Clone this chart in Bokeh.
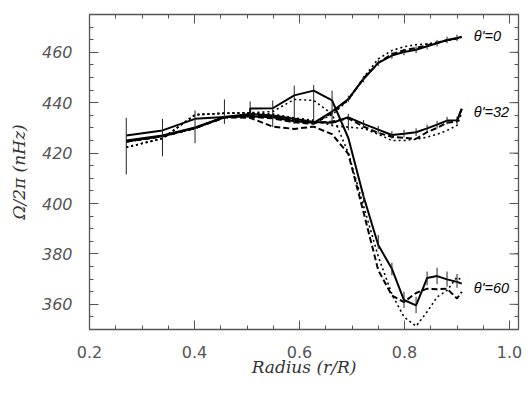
from bokeh.plotting import figure
from bokeh.models import Range1d, LinearAxis, FixedTicker, PrintfTickFormatter
from bokeh.embed import file_html
from bokeh.resources import INLINE
from bokeh.core.properties import value

# ---------------- data ----------------
r = [0.270, 0.339, 0.401, 0.457, 0.506, 0.549, 0.590, 0.627, 0.662, 0.693,
     0.722, 0.750, 0.776, 0.799, 0.822, 0.843, 0.862, 0.881, 0.900, 0.909]

eq_solid = [424.6, 426.7, 429.9, 434.2, 434.6, 434.2, 432.6, 432.0, 436.5, 441.5,
            449.4, 455.8, 458.7, 460.1, 461.0, 462.4, 463.6, 464.9, 465.7, 466.2]
eq_dash = [424.6, 426.7, 429.9, 434.2, 434.4, 433.8, 432.2, 431.6, 436.0, 441.3,
           449.6, 455.8, 459.3, 460.8, 461.7, 462.8, 463.8, 464.8, 465.5, 466.0]
eq_dot = [422.3, 425.8, 435.2, 435.8, 436.0, 435.0, 433.0, 432.0, 435.2, 441.0,
          450.0, 457.4, 460.7, 462.2, 463.0, 463.3, 464.0, 464.5, 465.5, 466.0]

m32_solid = [425.0, 427.0, 430.2, 434.3, 435.5, 434.9, 433.6, 432.3, 432.0, 434.2,
             431.6, 429.3, 427.2, 427.7, 428.3, 429.8, 431.3, 432.9, 433.0, 437.6]
m32_dash = [424.6, 426.7, 429.9, 434.2, 435.2, 434.5, 433.2, 432.0, 432.5, 433.8,
            430.5, 428.0, 426.5, 426.0, 425.7, 428.3, 430.0, 432.0, 432.5, 437.5]
m32_dot = [422.3, 425.8, 435.2, 435.8, 436.0, 435.5, 434.0, 433.0, 431.0, 430.3,
           429.8, 427.5, 425.0, 425.0, 425.5, 426.3, 427.5, 429.0, 431.0, 436.0]

r60 = [0.270, 0.339, 0.401, 0.457, 0.506, 0.506, 0.549, 0.590, 0.627, 0.662, 0.693,
       0.722, 0.750, 0.776, 0.799, 0.822, 0.843, 0.862, 0.881, 0.900, 0.909]
m60_solid = [427.0, 429.0, 433.6, 434.3, 434.8, 437.7, 437.8, 442.9, 444.8, 440.9, 426.0,
             402.8, 383.5, 374.1, 361.7, 359.6, 370.4, 371.2, 369.9, 368.9, 368.2]
m60_dash = [424.6, 426.7, 429.9, 434.2, 434.0, 430.5, 429.6, 430.5, 427.5, 419.7,
            396.5, 373.5, 363.5, 360.9, 364.5, 366.2, 366.0, 366.2, 362.3, 364.9]
m60_dot = [422.3, 425.8, 435.2, 435.8, 436.0, 436.5, 441.3, 440.9, 435.5, 420.0,
           399.0, 379.0, 364.0, 355.0, 351.3, 357.0, 362.9, 365.5, 370.8, 369.5]

# error bars (lower / upper limits)
bar_r60 = [0.270, 0.339, 0.401, 0.457, 0.506, 0.549, 0.590, 0.627, 0.662,
           0.722, 0.750, 0.776, 0.799, 0.822, 0.843, 0.862, 0.881, 0.900]
bar_lo60 = [411.5, 418.7, 423.9, 431.6, 434.9, 430.3, 431.6, 431.6, 431.0,
            400.5, 382.0, 371.5, 358.5, 356.5, 367.5, 368.0, 367.0, 366.5]
bar_hi60 = [434.0, 433.6, 436.9, 441.3, 440.5, 440.9, 446.8, 447.0, 444.8,
            404.5, 387.5, 376.5, 365.0, 363.0, 373.0, 374.5, 373.0, 372.0]

bar_r = [0.693, 0.722, 0.750, 0.776, 0.799, 0.822, 0.843, 0.862, 0.881, 0.900]
bar_lo0 = [440.2, 448.1, 454.5, 457.4, 458.8, 459.7, 461.1, 462.3, 463.6, 464.4]
bar_hi0 = [442.8, 450.7, 457.1, 460.0, 461.4, 462.3, 463.7, 464.9, 466.2, 467.0]
bar_lo32 = [429.0, 430.1, 427.8, 425.7, 426.2, 426.8, 428.3, 429.8, 431.4, 431.5]
bar_hi32 = [435.6, 433.1, 430.8, 428.7, 429.2, 429.8, 431.3, 432.8, 434.4, 434.5]

curve_labels = ["\u03b8'=0", "\u03b8'=32", "\u03b8'=60"]

x_ticks = [0.2, 0.4, 0.6, 0.8, 1.0]
y_ticks = [360, 380, 400, 420, 440, 460]
x_minor = [round(0.2 + 0.05 * i, 3) for i in range(17)]
y_minor = [350 + 5 * i for i in range(26)]

X0, X1, Y0, Y1 = 0.2, 1.0171, 350, 475
FW, FH = 429, 315  # frame size in px

# ---------------- figure ----------------
p = figure(width=528, height=395, output_backend="svg", toolbar_location=None,
           x_range=Range1d(X0, X1), y_range=Range1d(Y0, Y1),
           min_border_left=89, min_border_right=10, min_border_top=14, min_border_bottom=66,
           background_fill_color="white", border_fill_color="white")
p.grid.visible = False
p.outline_line_color = "#555555"
p.outline_line_width = 1.3

ink = "black"
lw = 2.0
for xs, ys in [(r, eq_solid), (r, m32_solid), (r60, m60_solid)]:
    p.line(xs, ys, line_color=ink, line_width=lw)
for ys in [eq_dash, m32_dash, m60_dash]:
    p.line(r, ys, line_color=ink, line_width=lw, line_dash="6 3")
for ys in [eq_dot, m32_dot, m60_dot]:
    p.line(r, ys, line_color=ink, line_width=1.6, line_dash="2 3")

p.segment(x0=bar_r60, y0=bar_lo60, x1=bar_r60, y1=bar_hi60, line_color="#222222", line_width=1)
p.segment(x0=bar_r, y0=bar_lo0, x1=bar_r, y1=bar_hi0, line_color="#222222", line_width=1)
p.segment(x0=bar_r, y0=bar_lo32, x1=bar_r, y1=bar_hi32, line_color="#222222", line_width=1)

ends_x = [r[-1] + 0.023, r[-1] + 0.023, r60[-1] + 0.023]
ends_y = [eq_solid[-1] + 0.4, m32_solid[-1] - 1.4, m60_solid[-1] - 1.7]
p.text(x=ends_x, y=ends_y, text=curve_labels, text_font=value("Liberation Sans"),
       text_font_size="14.5px", text_font_style="italic", text_baseline="middle",
       text_align="left", text_color="black")

# ---------------- axes ----------------
axis_col = "#555555"
tick_col = "#555555"
def style(ax):
    ax.major_tick_in = 9
    ax.major_tick_out = 0
    ax.minor_tick_in = 4
    ax.minor_tick_out = 0
    ax.axis_line_color = axis_col
    ax.major_tick_line_color = axis_col
    ax.minor_tick_line_color = axis_col
    ax.major_tick_line_width = 1
    ax.minor_tick_line_width = 1

xa = p.xaxis[0]
xa.ticker = FixedTicker(ticks=x_ticks, minor_ticks=x_minor)
xa.formatter = PrintfTickFormatter(format="%.1f")
style(xa)
xa.major_label_text_font = "DejaVu Sans"
xa.major_label_text_font_size = "16px"
xa.major_label_text_color = tick_col
xa.major_label_standoff = 16
xa.axis_label = "Radius (r/R)"
xa.axis_label_text_font = "DejaVu Serif"
xa.axis_label_text_font_style = "italic"
xa.axis_label_text_font_size = "17px"
xa.axis_label_text_color = "#333333"
xa.axis_label_standoff = -4

ya = p.yaxis[0]
ya.ticker = FixedTicker(ticks=y_ticks, minor_ticks=y_minor)
style(ya)
ya.major_label_text_font = "DejaVu Sans"
ya.major_label_text_font_style = "italic"
ya.major_label_text_font_size = "16px"
ya.major_label_text_color = tick_col
ya.major_label_standoff = 17
ya.axis_label = "\u03a9/2\u03c0 (nHz)"
ya.axis_label_text_font = "DejaVu Serif"
ya.axis_label_text_font_style = "italic"
ya.axis_label_text_font_size = "17px"
ya.axis_label_text_color = "#333333"
ya.axis_label_standoff = 10

# top / right axes: minor ticks only (no labels), long major ticks drawn as segments
top = LinearAxis(ticker=FixedTicker(ticks=[], minor_ticks=x_minor))
right = LinearAxis(ticker=FixedTicker(ticks=[], minor_ticks=y_minor))
style(top)
style(right)
p.add_layout(top, "above")
p.add_layout(right, "right")

dy = 9 * (Y1 - Y0) / FH
dx = 9 * (X1 - X0) / FW
p.segment(x0=x_ticks, y0=[Y1] * len(x_ticks), x1=x_ticks, y1=[Y1 - dy] * len(x_ticks),
          line_color=axis_col, line_width=1)
p.segment(x0=[X1] * len(y_ticks), y0=y_ticks, x1=[X1 - dx] * len(y_ticks), y1=y_ticks,
          line_color=axis_col, line_width=1)

open("out.html", "w").write(file_html(p, INLINE))
